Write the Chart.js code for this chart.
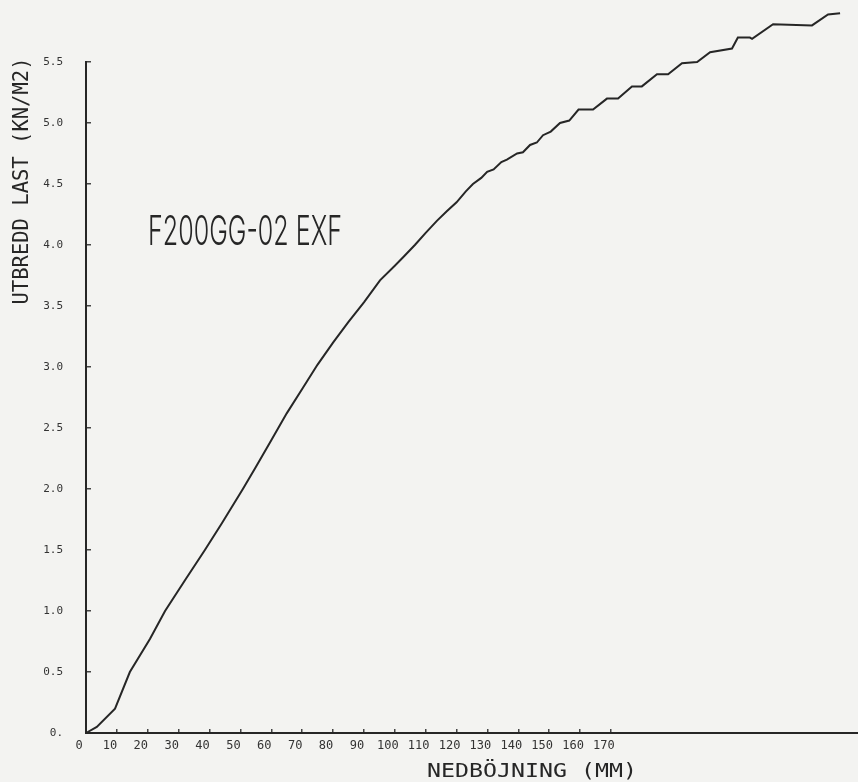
<!DOCTYPE html>
<html>
<head>
<meta charset="utf-8">
<title>F200GG-02 EXF</title>
<script src="https://cdn.jsdelivr.net/npm/chart.js@4.4.1/dist/chart.umd.min.js"></script>
<style>
  html, body { margin: 0; padding: 0; background: #f3f3f1; }
  #plot { display: block; }
</style>
</head>
<body>
<canvas id="plot" width="858" height="782"></canvas>
<script>
// ---------- Data ----------
// deflection in mm, distributed load in kN/m2
const deflection = [0, 3.5, 9.4, 14.2, 20.7, 25.6, 32, 38.5, 44, 50.8,
  55, 60, 65, 70, 75, 80, 85, 90, 95.2, 100,
  102.7, 106.5, 110, 113.7, 117, 120, 123, 125.3, 128, 129.9,
  132, 134.5, 136.3, 139.6, 141.5, 143.8, 146, 148, 150.5, 153.5,
  156.5, 159.5, 164.2, 168.7, 172.3, 176.8, 180, 184.9, 188.5, 193,
  197.9, 202.1, 209.2, 211.1, 215, 215.7, 222.5, 235.1, 240.3, 244.2];
const load = [0, 0.05, 0.2, 0.5, 0.77, 1.0, 1.25, 1.5, 1.72, 2.0,
  2.18, 2.4, 2.62, 2.82, 3.02, 3.2, 3.37, 3.53, 3.71, 3.83,
  3.9, 4.0, 4.1, 4.2, 4.28, 4.35, 4.44, 4.5, 4.55, 4.6,
  4.62, 4.68, 4.7, 4.75, 4.76, 4.82, 4.84, 4.9, 4.93, 5.0,
  5.02, 5.11, 5.11, 5.2, 5.2, 5.3, 5.3, 5.4, 5.4, 5.49,
  5.5, 5.58, 5.61, 5.7, 5.7, 5.69, 5.81, 5.8, 5.89, 5.9];

const xTicks = [0, 10, 20, 30, 40, 50, 60, 70, 80, 90, 100, 110, 120, 130, 140, 150, 160, 170];
const yTicks = [0, 0.5, 1.0, 1.5, 2.0, 2.5, 3.0, 3.5, 4.0, 4.5, 5.0, 5.5];

const specimen = 'F200GG-02 EXF';
const xTitle = 'NEDBÖJNING (MM)';
const yTitle = 'UTBREDD LAST (KN/M2)';

// ---------- Helpers ----------
const INK = '#262626';
const MONO = '"DejaVu Sans Mono", monospace';
const THIN = '300 {size}px Inter, "DejaVu Sans Mono", sans-serif';

// draws text squeezed/stretched to a given width with a given cap height
function plotterText(ctx, text, cx, cy, width, capH, angle, font){
  const size = capH / 0.729;
  ctx.save();
  ctx.font = font ? font.replace('{size}', size) : size + 'px ' + MONO;
  const w = ctx.measureText(text).width;
  ctx.translate(cx, cy);
  ctx.rotate(angle || 0);
  ctx.scale(width / w, 1);
  ctx.fillStyle = INK;
  ctx.textAlign = 'center';
  ctx.textBaseline = 'alphabetic';
  ctx.fillText(text, 0, capH / 2);
  ctx.restore();
}

const labelsPlugin = {
  id: 'plotterLabels',
  afterDraw(chart){
    const ctx = chart.ctx;
    plotterText(ctx, specimen, 245, 230, 194, 30, 0, THIN);
    plotterText(ctx, xTitle, 532, 770, 210, 14);
    plotterText(ctx, yTitle, 20.5, 181, 247, 15, -Math.PI / 2);
  }
};

// ---------- Chart ----------
const ctx = document.getElementById('plot').getContext('2d');
new Chart(ctx, {
  type: 'line',
  data: {
    datasets: [{
      data: deflection.map((x, i) => ({ x, y: load[i] })),
      borderColor: INK,
      borderWidth: 2,
      pointRadius: 0,
      tension: 0,
      clip: false
    }]
  },
  options: {
    responsive: false,
    animation: false,
    layout: { padding: { top: 62, right: 0, bottom: 0, left: 0 } },
    plugins: { legend: { display: false }, tooltip: { enabled: false } },
    scales: {
      x: {
        type: 'linear',
        min: 0,
        max: 250,
        afterBuildTicks: s => { s.ticks = xTicks.map(v => ({ value: v })); },
        afterFit: s => { s.height = 49; },
        grid: { drawOnChartArea: false, tickLength: -4, color: '#444', lineWidth: 1.5 },
        border: { color: INK, width: 2 },
        ticks: {
          font: { family: MONO, size: 12 },
          color: '#333',
          padding: 10,
          labelOffset: -7,
          maxRotation: 0,
          autoSkip: false
        }
      },
      y: {
        min: 0,
        max: 5.5,
        afterBuildTicks: s => { s.ticks = yTicks.map(v => ({ value: v })); },
        afterFit: s => { s.width = 86; },
        grid: { drawOnChartArea: false, tickLength: -5, color: '#444', lineWidth: 1.5 },
        border: { color: INK, width: 2 },
        ticks: {
          font: { family: MONO, size: 11 },
          color: '#333',
          padding: 28,
          callback: v => v === 0 ? '0.' : v.toFixed(1)
        }
      }
    }
  },
  plugins: [labelsPlugin]
});
</script>
</body>
</html>
